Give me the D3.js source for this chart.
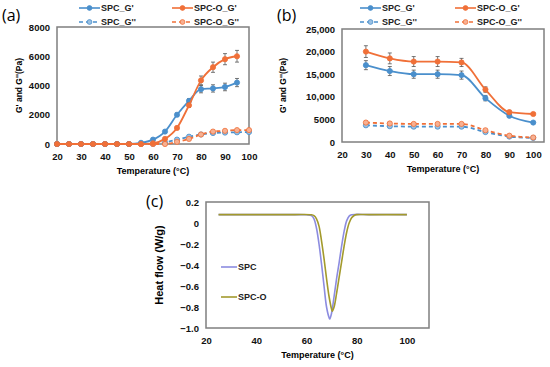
<!DOCTYPE html>
<html>
<head>
<meta charset="utf-8">
<script src="https://cdn.jsdelivr.net/npm/d3@7"></script>
<style>
  body { margin: 0; background: #fff; }
  text { font-family: "Open Sans", Arial, sans-serif; }
</style>
</head>
<body>
<script>
// ---- panel (a) data: temperature sweep ----
var tempA = [20, 25, 30, 35, 40, 45, 50, 55, 60, 65, 70, 75, 80, 85, 90, 95, 100];
var spcGp_a = [0, 0, 0, 0, 0, 0, 0, 80, 300, 850, 2000, 2950, 3750, 3800, 3900, 4200, null];
var spcGp_a_err = [0, 0, 0, 0, 0, 0, 0, 30, 50, 80, 120, 150, 250, 250, 260, 280, null];
var spcoGp_a = [0, 0, 0, 0, 0, 0, 0, 0, 50, 350, 1100, 2650, 4350, 5250, 5800, 6000, null];
var spcoGp_a_err = [0, 0, 0, 0, 0, 0, 0, 0, 30, 60, 100, 150, 300, 350, 380, 400, null];
var spcGpp_a = [0, 0, 0, 0, 0, 0, 0, 0, 0, 100, 300, 500, 650, 750, 780, 800, 820];
var spcoGpp_a = [0, 0, 0, 0, 0, 0, 0, 0, 0, 0, 150, 350, 650, 850, 900, 950, 950];
var gpp_a_err = [0, 0, 0, 0, 0, 0, 0, 0, 0, 30, 40, 50, 60, 60, 60, 60, 60];
var yTicksA = [0, 2000, 4000, 6000, 8000];
var xTicksAB = [20, 30, 40, 50, 60, 70, 80, 90, 100];

// ---- panel (b) data: cooling ----
var tempB = [30, 40, 50, 60, 70, 80, 90, 100];
var spcGp_b = [17000, 15700, 15000, 15000, 14800, 9700, 5800, 4300];
var spcGp_b_err = [1000, 1000, 900, 900, 900, 600, 300, 200];
var spcoGp_b = [20000, 18500, 17800, 17800, 17600, 11600, 6600, 6200];
var spcoGp_b_err = [1300, 1200, 1100, 1100, 900, 600, 400, 200];
var spcGpp_b = [3700, 3500, 3400, 3400, 3400, 2200, 1200, 900];
var spcoGpp_b = [4300, 4100, 4000, 4000, 4000, 2600, 1400, 1000];
var gpp_b_err = [300, 300, 300, 300, 300, 200, 150, 100];
var yTicksB = [0, 5000, 10000, 15000, 20000, 25000];

// ---- panel (c) data: DSC ----
var dscT_spc = [25, 40, 55, 60, 62, 63, 64, 65, 66, 67, 68, 69, 69.3, 70, 71, 72, 73, 74, 75, 76, 77, 78, 85, 100];
var dscH_spc = [0.08, 0.08, 0.08, 0.078, 0.07, 0.04, -0.05, -0.2, -0.39, -0.6, -0.8, -0.9, -0.914, -0.86, -0.7, -0.53, -0.38, -0.22, -0.08, 0.02, 0.065, 0.078, 0.08, 0.08];
var dscT_spco = [25, 40, 55, 62, 63, 64, 65, 66, 67, 68, 69, 70, 70.3, 71, 72, 73, 74, 75, 76, 77, 78, 79, 80, 85, 100];
var dscH_spco = [0.08, 0.08, 0.08, 0.078, 0.07, 0.04, -0.03, -0.17, -0.34, -0.53, -0.7, -0.82, -0.84, -0.8, -0.67, -0.52, -0.37, -0.22, -0.09, 0.0, 0.05, 0.072, 0.08, 0.08, 0.08];
var yTicksC = [0.2, 0, -0.2, -0.4, -0.6, -0.8, -1.0];
var xTicksC = [20, 40, 60, 80, 100];

var blue = "#4a8fcc", orange = "#f07038";
var svg = d3.select("body").append("svg").attr("width", 550).attr("height", 367);

function zip(xs, ys, es) {
    var out = [];
    for (var i = 0; i < xs.length; i++) {
        if (ys[i] == null) continue;
        out.push({x: xs[i], y: ys[i], e: es ? es[i] : 0});
    }
    return out;
}

function frame(x, y, title, yTitle, yTitleX, tickFmt, yTicks, xTicks) {
    var g = svg.append("g");
    g.append("rect")
        .attr("x", x.range()[0]).attr("y", y.range()[1])
        .attr("width", x.range()[1] - x.range()[0])
        .attr("height", y.range()[0] - y.range()[1])
        .attr("fill", "none").attr("stroke", "#7f7f7f").attr("stroke-width", 1.5);
    var yax = g.append("g").attr("transform", "translate(" + (x.range()[0] - 4) + ",0)")
        .call(d3.axisLeft(y).tickValues(yTicks).tickSize(0).tickFormat(tickFmt));
    var xax = g.append("g").attr("transform", "translate(0," + (y.range()[0] + 6) + ")")
        .call(d3.axisBottom(x).tickValues(xTicks).tickSize(0));
    [yax, xax].forEach(function (a) {
        a.select(".domain").remove();
        a.selectAll("text").attr("font-size", 9.5).attr("font-weight", "bold").attr("fill", "#111")
            .style("font-family", "'Liberation Sans', Arial, sans-serif");
    });
    g.append("text")
        .attr("x", (x.range()[0] + x.range()[1]) / 2).attr("y", y.range()[0] + 30)
        .attr("text-anchor", "middle").attr("font-size", 9).attr("font-weight", "bold")
        .style("font-family", "'Liberation Sans', Arial, sans-serif")
        .text("Temperature (°C)");
    g.append("text")
        .attr("transform", "translate(" + yTitleX + "," + ((y.range()[0] + y.range()[1]) / 2) + ") rotate(-90)")
        .attr("text-anchor", "middle").attr("font-size", 8.5).attr("font-weight", "bold")
        .style("font-family", "'Liberation Sans', Arial, sans-serif")
        .text(yTitle);
}

function series(x, y, data, color, dashed) {
    var g = svg.append("g");
    // error bars
    data.forEach(function (d) {
        if (!d.e) return;
        g.append("line").attr("x1", x(d.x)).attr("x2", x(d.x))
            .attr("y1", y(d.y - d.e)).attr("y2", y(d.y + d.e))
            .attr("stroke", "#555").attr("stroke-width", 0.8);
        [d.y - d.e, d.y + d.e].forEach(function (v) {
            g.append("line").attr("x1", x(d.x) - 2).attr("x2", x(d.x) + 2)
                .attr("y1", y(v)).attr("y2", y(v))
                .attr("stroke", "#555").attr("stroke-width", 0.8);
        });
    });
    g.append("path").datum(data)
        .attr("fill", "none").attr("stroke", color).attr("stroke-width", 1.8)
        .attr("stroke-dasharray", dashed ? "4,3" : null)
        .attr("d", d3.line().curve(d3.curveMonotoneX)
            .x(function (d) { return x(d.x); })
            .y(function (d) { return y(d.y); }));
    g.selectAll("circle").data(data).enter().append("circle")
        .attr("cx", function (d) { return x(d.x); })
        .attr("cy", function (d) { return y(d.y); })
        .attr("r", 2.6)
        .attr("fill", dashed ? d3.interpolateRgb(color, "#fff")(0.45) : color)
        .attr("stroke", color).attr("stroke-width", 0.8);
}

function legend(items, x0, x1, y0) {
    items.forEach(function (it, i) {
        var lx = i % 2 == 0 ? x0 : x1;
        var ly = y0 + Math.floor(i / 2) * 14;
        svg.append("line").attr("x1", lx).attr("x2", lx + 21).attr("y1", ly).attr("y2", ly)
            .attr("stroke", it.color).attr("stroke-width", 1.6)
            .attr("stroke-dasharray", it.dashed ? "4,3" : null);
        svg.append("circle").attr("cx", lx + 10.5).attr("cy", ly).attr("r", 2.4)
            .attr("fill", it.dashed ? d3.interpolateRgb(it.color, "#fff")(0.45) : it.color)
            .attr("stroke", it.color).attr("stroke-width", 0.8);
        svg.append("text").attr("x", lx + 22).attr("y", ly + 3.3)
            .attr("font-size", 9).attr("font-weight", "bold").attr("fill", "#222")
            .style("font-family", "'Liberation Sans Narrow', 'Liberation Sans', Arial, sans-serif")
            .text(it.name);
    });
}

var legItems = [
    {name: "SPC_G'", color: blue, dashed: false},
    {name: "SPC-O_G'", color: orange, dashed: false},
    {name: "SPC_G''", color: blue, dashed: true},
    {name: "SPC-O_G''", color: orange, dashed: true}
];

// ---------- panel (a) ----------
var xA = d3.scaleLinear().domain([20, 100]).range([57, 249]);
var yA = d3.scaleLinear().domain([0, 8000]).range([144, 27]);
frame(xA, yA, "(a)", "G' and G''(Pa)", 22, d3.format("d"), yTicksA, xTicksAB);
series(xA, yA, zip(tempA, spcGpp_a, gpp_a_err), blue, true);
series(xA, yA, zip(tempA, spcoGpp_a, gpp_a_err), orange, true);
series(xA, yA, zip(tempA, spcGp_a, spcGp_a_err), blue, false);
series(xA, yA, zip(tempA, spcoGp_a, spcoGp_a_err), orange, false);
legend(legItems, 79, 172, 8);
svg.append("text").attr("x", 2).attr("y", 21).attr("font-size", 16).text("(a)");

// ---------- panel (b) ----------
var xB = d3.scaleLinear().domain([20, 104.5]).range([342, 544]);
var yB = d3.scaleLinear().domain([0, 25000]).range([142, 29]);
frame(xB, yB, "(b)", "G' and G''(Pa)", 286, function (d) { return d < 10000 ? d3.format("d")(d) : d3.format(",")(d); }, yTicksB, xTicksAB);
series(xB, yB, zip(tempB, spcGpp_b, gpp_b_err), blue, true);
series(xB, yB, zip(tempB, spcoGpp_b, gpp_b_err), orange, true);
series(xB, yB, zip(tempB, spcGp_b, spcGp_b_err), blue, false);
series(xB, yB, zip(tempB, spcoGp_b, spcoGp_b_err), orange, false);
legend(legItems, 360, 455, 8);
svg.append("text").attr("x", 277).attr("y", 21).attr("font-size", 16).text("(b)");

// ---------- panel (c) ----------
var xC = d3.scaleLinear().domain([20, 108.8]).range([206, 429]);
var yC = d3.scaleLinear().domain([-1.0, 0.2]).range([328, 202]);
frame(xC, yC, "(c)", "", 0, function (d) { return d == 0 ? "0" : d3.format(".1f")(d).replace("-", "\u2212"); }, yTicksC, xTicksC);
svg.append("text")
    .attr("transform", "translate(163,265) rotate(-90)")
    .attr("text-anchor", "middle").attr("font-size", 11).attr("font-weight", "bold")
    .style("font-family", "'Liberation Sans', Arial, sans-serif")
    .text("Heat flow (W/g)");
var dscLine = d3.line().curve(d3.curveCatmullRom)
    .x(function (d) { return xC(d.x); })
    .y(function (d) { return yC(d.y); });
svg.append("path").datum(zip(dscT_spc, dscH_spc))
    .attr("fill", "none").attr("stroke", "#8c8ce0").attr("stroke-width", 1.6).attr("d", dscLine);
svg.append("path").datum(zip(dscT_spco, dscH_spco))
    .attr("fill", "none").attr("stroke", "#a39a2c").attr("stroke-width", 1.6).attr("d", dscLine);
[{name: "SPC", color: "#8c8ce0", y: 267}, {name: "SPC-O", color: "#a39a2c", y: 297}].forEach(function (it) {
    svg.append("line").attr("x1", 221).attr("x2", 237).attr("y1", it.y).attr("y2", it.y)
        .attr("stroke", it.color).attr("stroke-width", 1.6);
    svg.append("text").attr("x", 238).attr("y", it.y + 3.3)
        .attr("font-size", 9).attr("font-weight", "bold").attr("fill", "#222")
        .style("font-family", "'Liberation Sans Narrow', 'Liberation Sans', Arial, sans-serif")
        .text(it.name);
});
svg.append("text").attr("x", 146).attr("y", 207).attr("font-size", 16).text("(c)");
</script>
</body>
</html>
